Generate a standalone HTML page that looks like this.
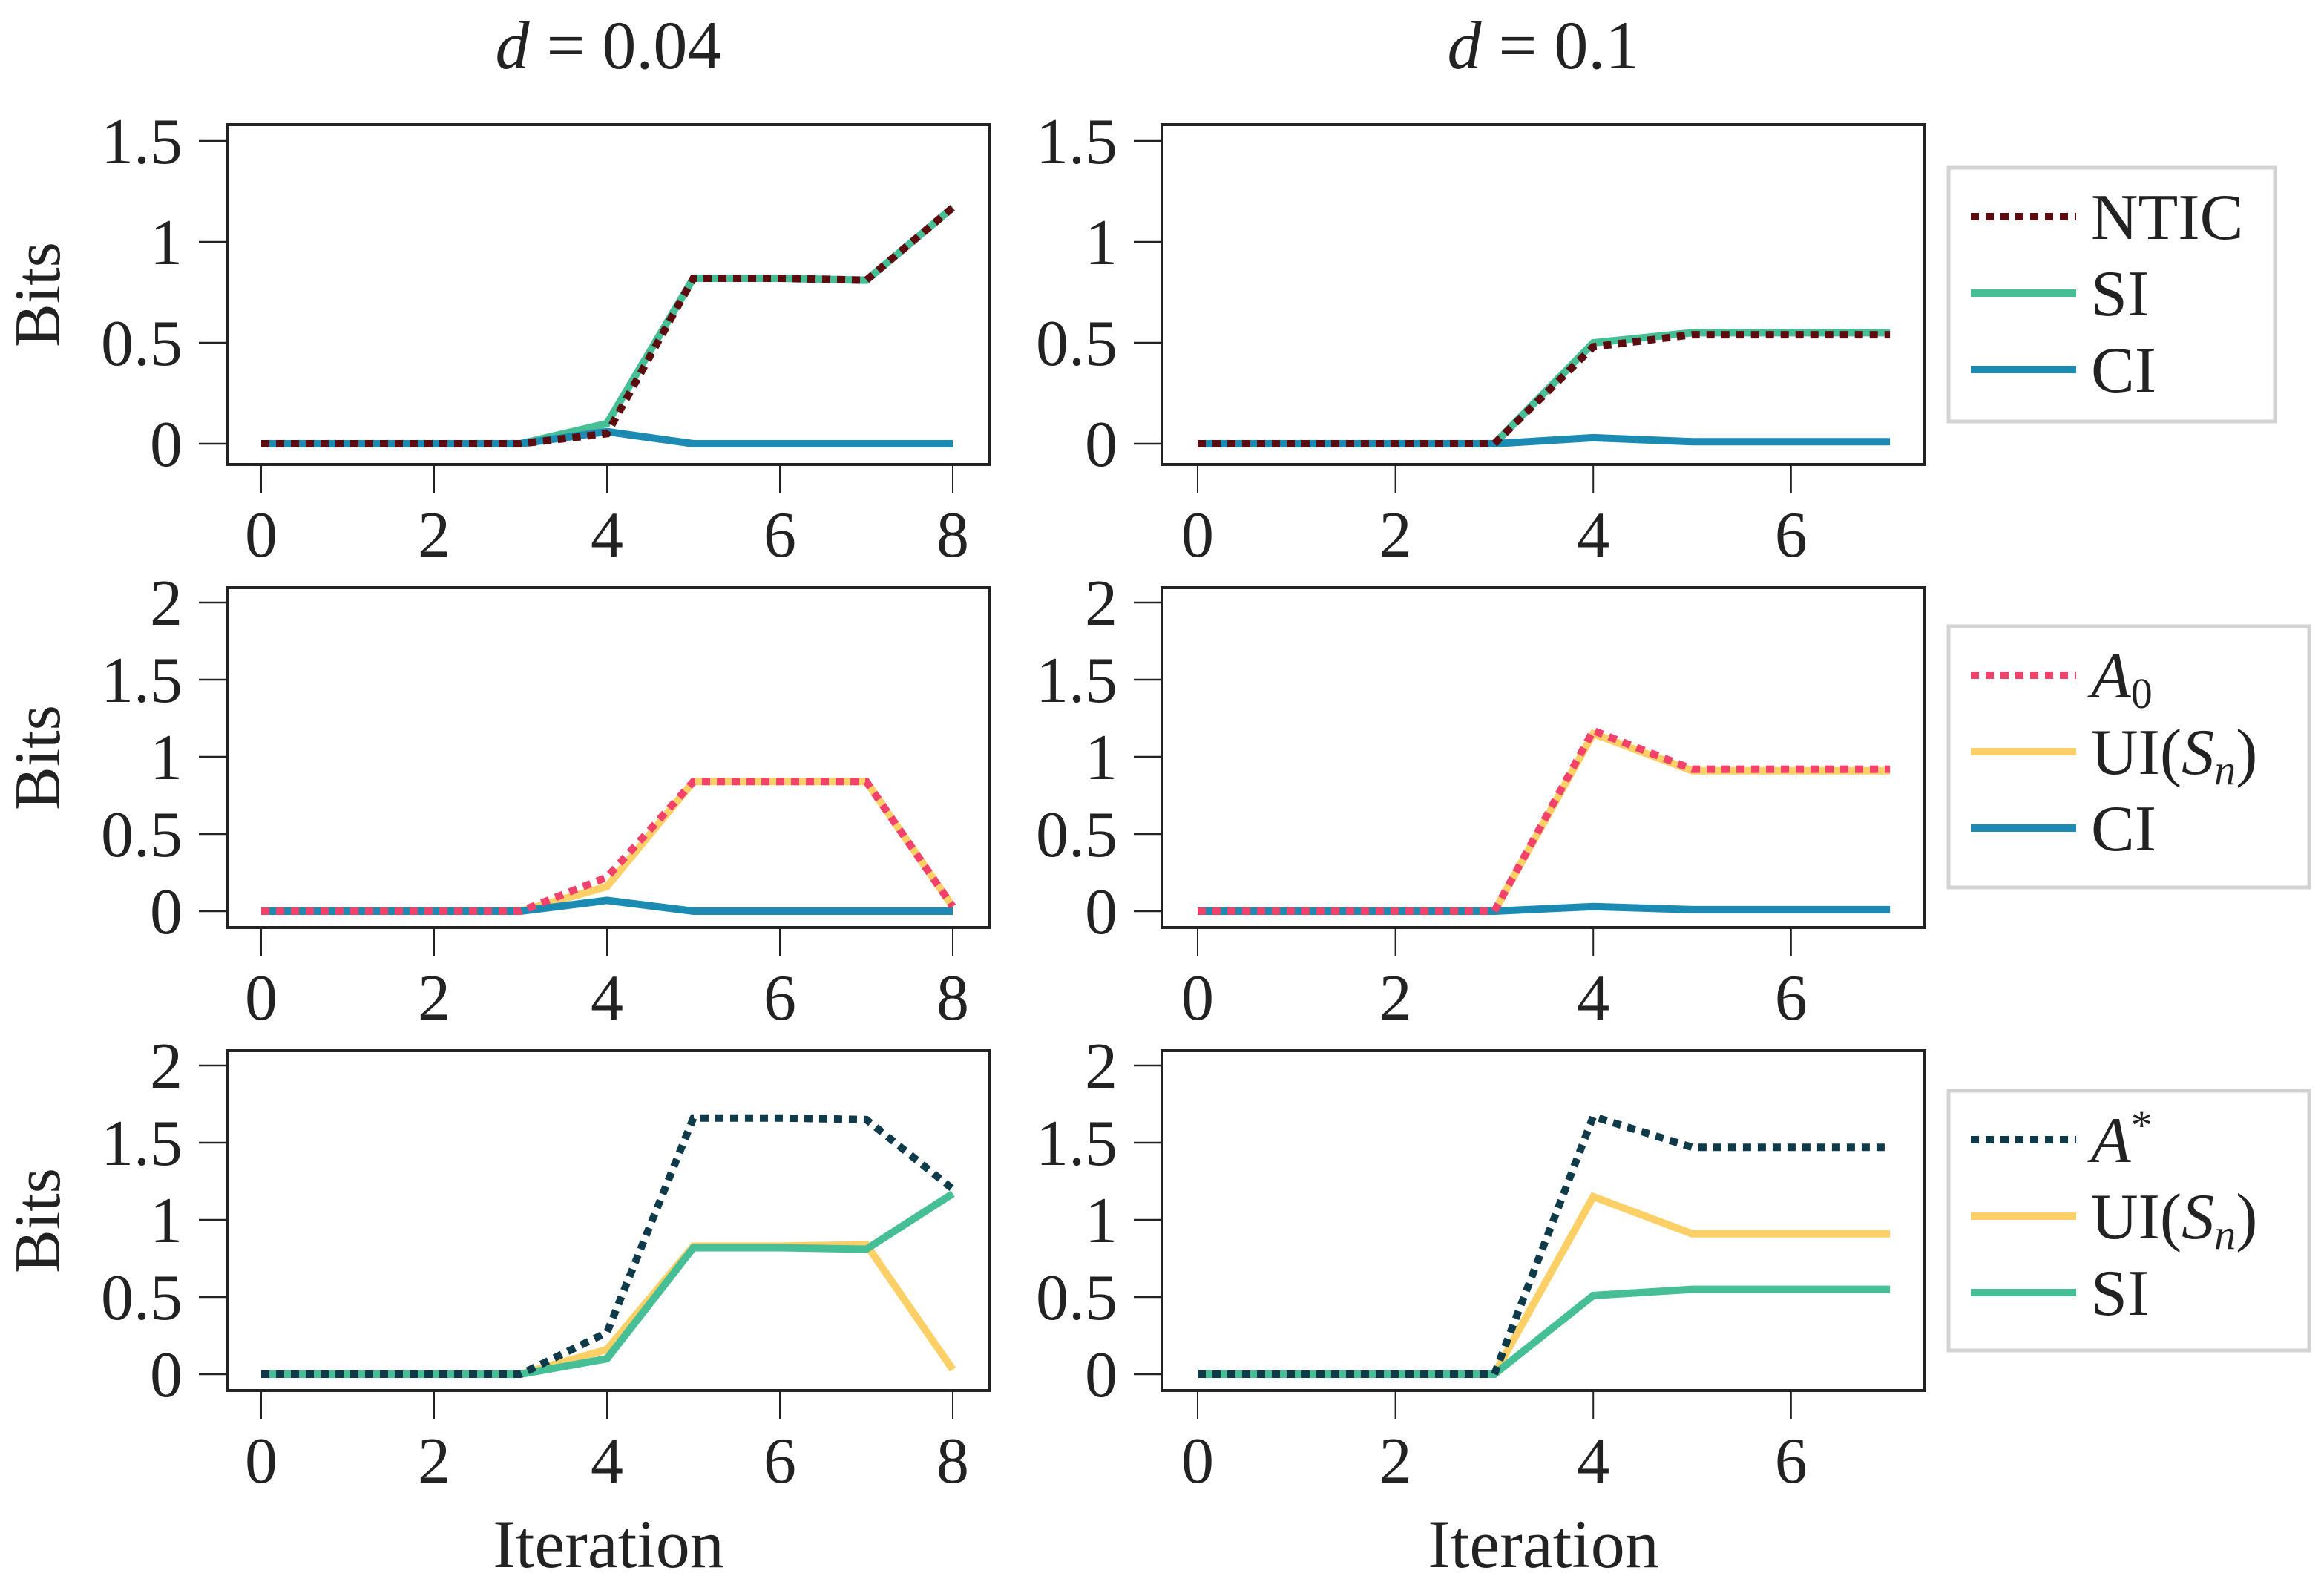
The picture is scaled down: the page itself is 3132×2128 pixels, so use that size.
<!DOCTYPE html>
<html><head><meta charset="utf-8"><style>
html,body{margin:0;padding:0;background:#fff;}
svg{display:block;font-family:"Liberation Serif",serif;}
</style></head><body>
<svg id="fig" width="3132" height="2128" viewBox="0 0 3132 2128" xmlns="http://www.w3.org/2000/svg"></svg>
<script>
const xCats8 = [0,1,2,3,4,5,6,7,8];
const xCats7 = [0,1,2,3,4,5,6,7];
const xTicks8 = [0,2,4,6,8];
const xTicks7 = [0,2,4,6];
const yTicksTop = [0,0.5,1,1.5];
const yTicksRest = [0,0.5,1,1.5,2];
const yTickLabels = {"0":"0","0.5":"0.5","1":"1","1.5":"1.5","2":"2"};
// Top row
const tlNTIC = [0,0,0,0,0.05,0.82,0.82,0.81,1.17];
const tlSI   = [0,0,0,0,0.10,0.82,0.82,0.81,1.17];
const tlCI   = [0,0,0,0,0.06,0,0,0,0];
const trNTIC = [0,0,0,0,0.48,0.54,0.54,0.54];
const trSI   = [0,0,0,0,0.50,0.55,0.55,0.55];
const trCI   = [0,0,0,0,0.03,0.01,0.01,0.01];
// Middle row
const mlA0 = [0,0,0,0,0.22,0.84,0.84,0.84,0.03];
const mlUI = [0,0,0,0,0.16,0.84,0.84,0.84,0.03];
const mlCI = [0,0,0,0,0.07,0,0,0,0];
const mrA0 = [0,0,0,0,1.17,0.92,0.92,0.92];
const mrUI = [0,0,0,0,1.15,0.91,0.91,0.91];
const mrCI = [0,0,0,0,0.03,0.01,0.01,0.01];
// Bottom row
const blAstar = [0,0,0,0,0.27,1.66,1.66,1.65,1.20];
const blUI    = [0,0,0,0,0.16,0.83,0.83,0.84,0.03];
const blSI    = [0,0,0,0,0.10,0.82,0.82,0.81,1.17];
const brAstar = [0,0,0,0,1.67,1.47,1.47,1.47];
const brUI    = [0,0,0,0,1.15,0.91,0.91,0.91];
const brSI    = [0,0,0,0,0.51,0.55,0.55,0.55];

const C = {NTIC:"#5c0b0e", SI:"#46bf96", CI:"#1c8bb4", A0:"#f2426c", UI:"#fdd067", Astar:"#0e3a4a"};
const NS="http://www.w3.org/2000/svg";
const svg=document.getElementById('fig');
function mk(tag,attrs,parent){const e=document.createElementNS(NS,tag);for(const k in attrs)e.setAttribute(k,attrs[k]);(parent||svg).appendChild(e);return e;}
const FS=88;
const cols=[{fx0:306,fx1:1334,x0:352,xu:116.5,cats:xCats8,ticks:xTicks8,name:"d004"},
            {fx0:1566,fx1:2594,x0:1614,xu:133.3,cats:xCats7,ticks:xTicks7,name:"d01"}];
const rows=[{fy0:168,fy1:626,y0:598,yu:272,ticks:yTicksTop,lab:720},
            {fy0:792,fy1:1250,y0:1228,yu:208,ticks:yTicksRest,lab:1344},
            {fy0:1416,fy1:1874,y0:1852,yu:208,ticks:yTicksRest,lab:1968}];
const panels=[
 [ [[tlSI,"SI",false],[tlCI,"CI",false],[tlNTIC,"NTIC",true]], [[trSI,"SI",false],[trCI,"CI",false],[trNTIC,"NTIC",true]] ],
 [ [[mlUI,"UI",false],[mlCI,"CI",false],[mlA0,"A0",true]], [[mrUI,"UI",false],[mrCI,"CI",false],[mrA0,"A0",true]] ],
 [ [[blUI,"UI",false],[blSI,"SI",false],[blAstar,"Astar",true]], [[brUI,"UI",false],[brSI,"SI",false],[brAstar,"Astar",true]] ]
];
rows.forEach((r,ri)=>{
  cols.forEach((c,ci)=>{
    const g=mk('g',{});
    
    
    const X=v=>c.x0+v*c.xu, Y=v=>r.y0-v*r.yu;
    r.ticks.forEach(t=>{
      const ln=mk('line',{x1:c.fx0-38,x2:c.fx0,y1:Y(t),y2:Y(t),stroke:"#222","stroke-width":2.5},g);
      
      
      const tx=mk('text',{x:c.fx0-60,y:Y(t)+30,"text-anchor":"end","font-size":FS,fill:"#222"},g);
      tx.textContent=yTickLabels[String(t)];
      
      
    });
    c.ticks.forEach(t=>{
      const ln=mk('line',{x1:X(t),x2:X(t),y1:r.fy1,y2:r.fy1+38,stroke:"#222","stroke-width":2},g);
      
      
      const tx=mk('text',{x:X(t),y:r.lab+30,"text-anchor":"middle","font-size":FS,fill:"#222"},g);
      tx.textContent=String(t);
      
      
    });
    panels[ri][ci].forEach(([vals,key,dot])=>{
      const pts=vals.map((v,i)=>X(c.cats[i])+","+Y(v)).join(" ");
      const pl=mk('polyline',{points:pts,fill:"none",stroke:C[key],"stroke-width":10,"stroke-linejoin":"miter","stroke-dasharray":dot?"11 9":"none"},g);
      
      
    });
    const fr=mk('rect',{x:c.fx0,y:r.fy0,width:c.fx1-c.fx0,height:r.fy1-r.fy0,fill:"none",stroke:"#222","stroke-width":4},g);
    
    
  });
  const b=mk('text',{x:0,y:0,"font-size":FS,fill:"#222","text-anchor":"middle",transform:`translate(80,${(r.fy0+r.fy1)/2}) rotate(-90)`});
  b.textContent="Bits";
  
  
});
[[820,"0.04"],[2080,"0.1"]].forEach(([x,v])=>{
  const t=mk('text',{x:x,y:92,"font-size":92,fill:"#222","text-anchor":"middle"});
  t.innerHTML='<tspan font-style="italic">d</tspan> = '+v;
  
  
});
[820,2080].forEach(x=>{
  const t=mk('text',{x:x,y:2112,"font-size":92,fill:"#222","text-anchor":"middle"});
  t.textContent="Iteration";
  
  
});
const legends=[
 {x:2626,y:226,w:440,h:342,items:[["NTIC","NTIC",true],["SI","SI",false],["CI","CI",false]]},
 {x:2626,y:844,w:486,h:352,items:[["A0","A0",true],["UI","UI",false],["CI","CI",false]]},
 {x:2626,y:1470,w:486,h:350,items:[["Astar","A*",true],["UI","UI",false],["SI","SI",false]]}
];
legends.forEach((L,li)=>{
  const g=mk('g',{});
  
  
  mk('rect',{x:L.x,y:L.y,width:L.w,height:L.h,fill:"#fff",stroke:"#d3d3d3","stroke-width":5},g);
  L.items.forEach(([key,lab,dot],i)=>{
    const yy=L.y+66+i*103;
    const ln=mk('line',{x1:L.x+30,x2:L.x+172,y1:yy,y2:yy,stroke:C[key],"stroke-width":10,"stroke-dasharray":dot?"11 9":"none"},g);
    
    
    const t=mk('text',{x:L.x+192,y:yy+30,"font-size":FS,fill:"#222"},g);
    if(key==="A0") t.innerHTML='<tspan font-style="italic">A</tspan><tspan font-size="58" dy="14">0</tspan>';
    else if(key==="Astar") t.innerHTML='<tspan font-style="italic">A</tspan><tspan font-size="58" dy="-30">*</tspan>';
    else if(key==="UI") t.innerHTML='UI(<tspan font-style="italic">S</tspan><tspan font-style="italic" font-size="58" dy="14">n</tspan><tspan dy="-14">)</tspan>';
    else t.textContent=lab;
    
    
  });
});
</script>
</body></html>
